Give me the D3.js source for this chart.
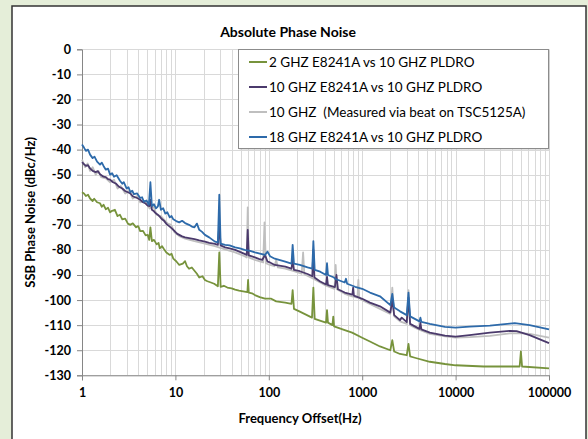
<!DOCTYPE html>
<html>
<head>
<meta charset="utf-8">
<script src="https://cdn.jsdelivr.net/npm/d3@7"></script>
<style>
  body { margin: 0; background: #e5eed9; }
  svg { display: block; font-family: Lato, "Liberation Sans", sans-serif; }
</style>
</head>
<body>
<svg width="588" height="439"></svg>
<script>
// axis ticks
const xTicks = [1, 10, 100, 1000, 10000, 100000];
const yTicks = d3.range(-130, 1, 10);

// series: [offset Hz, dBc/Hz]
const green2G = [
  [1, -57], [1.05, -57.5], [1.1, -58.5], [1.16, -58], [1.22, -59.5], [1.3, -60.5], [1.35, -59.6], [1.45, -61],
  [1.56, -61.4], [1.63, -62.8], [1.7, -62], [1.8, -63.8], [1.9, -63.2], [2, -65], [2.1, -64.4], [2.25, -64],
  [2.4, -66.5], [2.55, -66], [2.7, -67.8], [2.9, -67.5], [3.1, -69.5], [3.3, -70], [3.5, -69.4], [3.8, -71],
  [4, -70.5], [4.2, -72.5], [4.5, -72.4], [4.8, -74.2], [5.05, -74], [5.25, -76], [5.4, -71], [5.6, -76.5],
  [5.9, -76], [6.3, -77.8], [6.6, -77.2], [6.8, -79.4], [7.2, -78.5], [7.5, -79.5], [8, -81], [8.7, -82],
  [9.1, -81.5], [9.5, -83.5], [10.2, -84.5], [11, -86], [12, -85.5], [12.7, -84.5], [13.3, -86.5], [14, -87.5],
  [15, -87], [16, -88.3], [17, -89.5], [18, -91], [19.5, -90.5], [20.7, -92], [22, -92.5], [24, -93],
  [26, -93.5], [28.5, -94.5], [29.5, -81], [30.5, -94.7], [33, -94.3], [36, -95], [40, -95.3], [43.6, -95.8],
  [48, -96.2], [55, -96.6], [59, -96.8], [60, -92], [61, -97], [66, -97.3], [71, -98], [80, -98.8],
  [91, -99.4], [105, -99.4], [120, -100.5], [150, -101], [175, -101.5], [180, -96], [186, -103.5],
  [215, -104.6], [290, -107], [300, -95], [310, -107.5], [380, -108.6], [410, -109], [420, -104], [430, -109],
  [480, -110], [490, -106.6], [500, -110.5], [650, -112], [780, -113], [1000, -115], [1210, -116.5],
  [1550, -118.5], [2000, -120], [2100, -116], [2200, -120.5], [2540, -121.5], [3000, -122], [3130, -117.5],
  [3260, -122.5], [3660, -123], [5300, -124.6], [7700, -125.5], [10000, -126], [20000, -126.5],
  [48500, -126.5], [50000, -120.5], [51500, -126.5], [100000, -127.2]
];

const purple10G = [
  [1, -45], [1.05, -45.8], [1.1, -46.5], [1.16, -46.2], [1.22, -47.5], [1.3, -48.5], [1.4, -49], [1.48, -48.6],
  [1.56, -49.8], [1.7, -50.8], [1.8, -51], [1.9, -51.8], [2, -52], [2.15, -53], [2.3, -53.5], [2.45, -54.6],
  [2.55, -55], [2.7, -55.5], [2.9, -56.5], [3.1, -57], [3.3, -57.5], [3.5, -58.6], [3.7, -59], [3.95, -59.4],
  [4.2, -60], [4.5, -61], [4.8, -61.5], [5.05, -62.3], [5.3, -62.5], [5.45, -60], [5.6, -64], [5.9, -64.6],
  [6.2, -65.5], [6.5, -66], [6.8, -66.7], [7.2, -67.8], [7.6, -68.5], [8.1, -69.8], [8.7, -70.7], [9.2, -71.5],
  [9.8, -72.5], [10.4, -73.5], [11, -74], [11.8, -74.6], [12.7, -75], [14, -75.3], [16, -75.7], [18, -76.2],
  [20.7, -76.7], [23, -77.2], [26.5, -77.6], [28.5, -78], [29.5, -70], [30.5, -78.2], [34, -79], [38, -79.4],
  [43.6, -80], [49, -80.8], [55, -81.6], [58, -82], [59.5, -72], [61, -82.2], [66, -82.6], [71, -83], [78, -83.6],
  [85, -84], [91, -82], [97, -84.7], [103, -85],
  [116, -86], [150, -86.7], [175, -87.5], [180, -84], [186, -88], [215, -88.5], [260, -89.6], [292, -90.5],
  [300, -80], [308, -91], [355, -92.6], [410, -93.8], [420, -90.7], [430, -94], [510, -94.8], [530, -90],
  [550, -95.7], [650, -97], [785, -97.8], [800, -95], [815, -98.2], [1000, -99.5], [1210, -101],
  [1550, -102.5], [2000, -105], [2100, -100], [2200, -106], [2540, -108], [2650, -107], [3000, -108.8],
  [3130, -99], [3260, -109.5], [3660, -110.5], [4100, -111.5], [4200, -109], [4300, -111.7], [5300, -113],
  [7700, -114.2], [10000, -114.6], [14100, -114], [23300, -113], [38000, -112.3], [45000, -112.4],
  [62000, -114], [100000, -117.2]
];

const gray10G = [
  [1, -44], [1.08, -47], [1.15, -45.5], [1.22, -48.5], [1.3, -47], [1.4, -50], [1.5, -48.5], [1.6, -51],
  [1.8, -51.5], [2, -53], [2.2, -52], [2.4, -55.5], [2.6, -54.5], [2.9, -57.5], [3.2, -56.5], [3.5, -59.5],
  [3.9, -58.5], [4.2, -61], [4.7, -60.5], [5.3, -63.5], [5.8, -62.5], [6.3, -66], [7, -66.5], [7.6, -68],
  [8.3, -69.5], [9, -70], [9.8, -73], [11, -74.5], [12.7, -75.5], [16, -76.5], [20.7, -77.5], [26.5, -78.5],
  [34, -79.8], [43.6, -81], [55, -82.5], [58, -83], [59.5, -63], [61, -83], [71, -84], [87, -85], [90, -69],
  [93, -85.3], [103, -86], [115, -86.5], [120, -84], [125, -87], [150, -87.5], [186, -88.5], [225, -89.5],
  [233, -81], [240, -89.7], [300, -91.5], [355, -93], [410, -94.3], [505, -95.5], [520, -86], [535, -95.7],
  [650, -97.5], [780, -98.5], [890, -99], [910, -92], [930, -99.2], [1000, -100], [1210, -101.5],
  [1550, -103.5], [2000, -105.5], [2100, -95], [2200, -106.5], [2540, -108.5], [3000, -109.5], [3130, -96],
  [3260, -110], [3660, -111], [4200, -112], [5300, -113.5], [7700, -114.5], [10000, -115], [14100, -114.8],
  [23300, -114.3], [38000, -113.3], [50000, -113.2], [62000, -113.5], [100000, -115]
];

const blue18G = [
  [1, -38], [1.05, -39.2], [1.1, -40.5], [1.16, -40], [1.22, -42], [1.3, -43.4], [1.36, -42.8], [1.45, -44.8],
  [1.56, -46], [1.63, -45.2], [1.7, -46.5], [1.8, -48], [1.9, -47.6], [2, -50], [2.1, -49.4], [2.2, -50.8],
  [2.35, -50.2], [2.55, -52.4], [2.7, -53.6], [2.8, -53], [3, -55.5], [3.15, -55], [3.3, -57], [3.45, -56.4],
  [3.6, -57.8], [3.9, -57.5], [4.2, -59.3], [4.4, -59], [4.6, -60.8], [4.9, -60.3], [5.2, -62], [5.4, -53],
  [5.6, -62.5], [5.9, -61.8], [6.2, -63.4], [6.5, -62.6], [6.7, -60], [7, -64], [7.4, -63.4], [7.8, -65.5],
  [8.2, -65], [8.7, -67], [9.1, -66.5], [9.5, -67.8], [10.2, -68.5], [11, -69], [11.8, -68.4], [12.7, -69.3],
  [14, -70], [15, -70.7], [16, -71], [17, -69.5], [18, -72], [19.3, -72.8], [20.7, -74], [23, -75],
  [26.5, -76.7], [28.5, -77], [29.5, -58], [30.5, -77.5], [34, -78], [38, -78.2], [43.6, -79], [49, -79.4],
  [55, -80], [63, -80.4], [71, -81],
  [91, -82], [97, -80.7], [103, -82.5], [116, -83.5], [150, -84.7], [175, -85.5], [180, -78], [186, -85.5],
  [215, -86], [260, -87], [292, -87.5], [300, -76.5], [310, -88], [355, -88.7], [410, -90], [420, -85.3],
  [430, -90], [500, -91], [510, -91.5], [650, -93], [670, -91.5], [690, -93.5], [840, -94.7], [1000, -95.5],
  [1210, -97], [1550, -98.5], [2000, -102], [2100, -97.5], [2200, -103], [2540, -104.5], [3000, -106],
  [3130, -97], [3260, -106.5], [3660, -107.5], [4100, -108.5], [4200, -107], [4300, -108.7], [5300, -109.5],
  [7700, -110.7], [10000, -111], [14100, -110.6], [23300, -110.2], [38000, -109.4], [43000, -109.2],
  [62000, -110], [100000, -111.7]
];

const seriesNames = [
  "2 GHZ E8241A vs 10 GHZ PLDRO",
  "10 GHZ E8241A vs 10 GHZ PLDRO",
  "10 GHZ  (Measured via beat on TSC5125A)",
  "18 GHZ E8241A vs 10 GHZ PLDRO"
];
const seriesColors = ["#77933c", "#4b3a6c", "#bfbfbf", "#2d6aaa"];
const seriesData = [green2G, purple10G, gray10G, blue18G];

const svg = d3.select("svg");

// chart frame
svg.append("rect")
    .attr("x", 12).attr("y", 6)
    .attr("width", 574).attr("height", 450)
    .attr("fill", "#fff")
    .attr("stroke", "#333")
    .attr("stroke-width", 1.5);

const x = d3.scaleLog().domain([1, 100000]).range([82, 549]);
const y = d3.scaleLinear().domain([-130, 0]).range([375.3, 49.3]);

// grid
const minor = [];
for (let p = 1; p < 100000; p *= 10)
    for (let k = 1; k < 10; k++) minor.push(p * k);
minor.push(100000);

const grid = svg.append("g").attr("stroke", "#d9d9d9").attr("stroke-width", 1);
grid.selectAll("line.v")
    .data(minor)
    .join("line")
    .attr("class", "v")
    .attr("x1", d => Math.round(x(d)) + 0.5).attr("x2", d => Math.round(x(d)) + 0.5)
    .attr("y1", y(0)).attr("y2", y(-130));
grid.selectAll("line.h")
    .data(yTicks)
    .join("line")
    .attr("class", "h")
    .attr("x1", x(1)).attr("x2", x(100000))
    .attr("y1", d => Math.round(y(d)) + 0.5).attr("y2", d => Math.round(y(d)) + 0.5);

// axes
const yAxis = svg.append("g")
    .attr("transform", `translate(${x(1)},0)`)
    .call(d3.axisLeft(y).tickValues(yTicks).tickSize(5).tickPadding(6).tickFormat(d => String(d)));
const xAxis = svg.append("g")
    .attr("transform", `translate(0,${y(-130)})`)
    .call(d3.axisBottom(x).tickValues(xTicks).tickSize(5).tickPadding(8).tickFormat(d3.format("d")));

for (const ax of [yAxis, xAxis]) {
    ax.select(".domain").attr("stroke", "#868686");
    ax.selectAll(".tick line").attr("stroke", "#868686");
    ax.selectAll(".tick text")
        .attr("fill", "#000")
        .style("font-family", "Lato, 'Liberation Sans', sans-serif")
        .style("font-size", "12.5px")
        .style("font-weight", "bold");
}

// lines
const line = d3.line().x(d => x(d[0])).y(d => y(d[1]));
const drawOrder = [0, 2, 1, 3];
svg.append("g")
    .attr("fill", "none")
    .attr("stroke-width", 1.8)
    .attr("stroke-linejoin", "round")
    .selectAll("path")
    .data(drawOrder)
    .join("path")
    .attr("stroke", i => seriesColors[i])
    .attr("d", i => line(seriesData[i]));

// titles
svg.append("text")
    .attr("x", 288).attr("y", 37)
    .attr("text-anchor", "middle")
    .style("font-size", "14px").style("font-weight", "bold")
    .text("Absolute Phase Noise");

svg.append("text")
    .attr("x", 300).attr("y", 423)
    .attr("text-anchor", "middle")
    .style("font-size", "13px").style("font-weight", "bold")
    .text("Frequency Offset(Hz)");

svg.append("text")
    .attr("transform", `translate(35,${(y(0) + y(-130)) / 2}) rotate(-90)`)
    .attr("text-anchor", "middle")
    .style("font-size", "13px").style("font-weight", "bold")
    .text("SSB Phase Noise (dBc/Hz)");

// legend
const legend = svg.append("g");
legend.append("rect")
    .attr("x", 239.5).attr("y", 50.5)
    .attr("width", 310).attr("height", 99)
    .attr("fill", "#c8c8c8");
legend.append("rect")
    .attr("x", 238.5).attr("y", 49.5)
    .attr("width", 310).attr("height", 99)
    .attr("fill", "#fff")
    .attr("stroke", "#8c8c8c");

const rows = legend.selectAll("g.row")
    .data(seriesNames)
    .join("g")
    .attr("class", "row")
    .attr("transform", (d, i) => `translate(249,${62 + i * 25})`);
rows.append("line")
    .attr("x1", 0).attr("x2", 18)
    .attr("stroke", (d, i) => seriesColors[i])
    .attr("stroke-width", 2);
rows.append("text")
    .attr("x", 20).attr("y", 5)
    .style("font-size", "13.5px")
    .style("white-space", "pre")
    .text(d => d);
</script>
</body>
</html>
